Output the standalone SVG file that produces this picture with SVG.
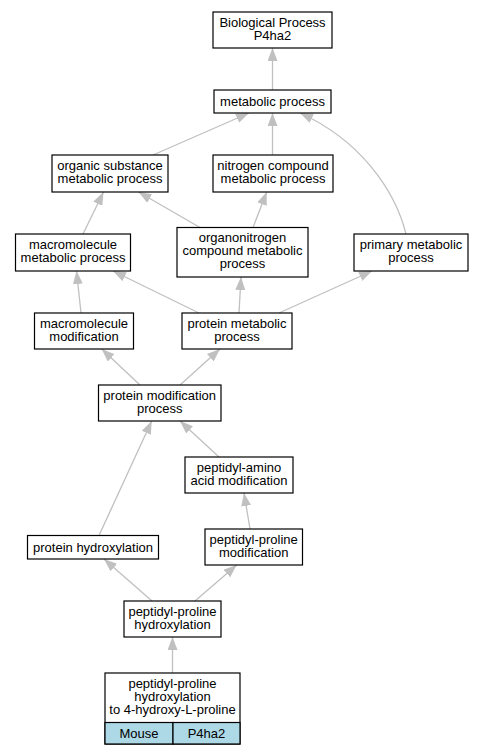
<svg xmlns="http://www.w3.org/2000/svg" width="483" height="755" viewBox="0 0 483 755">
<style>
.n rect{fill:#fff;stroke:#000;stroke-width:1.2}
.n text,.c text{font-family:"Liberation Sans",Arial,sans-serif;font-size:13px;fill:#000;text-anchor:middle}
.e path{fill:none;stroke:#c0c0c0;stroke-width:1.3;marker-end:url(#ah)}
</style>
<defs>
<marker id="ah" viewBox="0 0 13 10" refX="13" refY="5" markerWidth="13" markerHeight="10" markerUnits="userSpaceOnUse" orient="auto">
<path d="M0,0 L13,5 L0,10 z" fill="#c0c0c0"/>
</marker>
</defs>
<rect width="483" height="755" fill="#fff"/>
<g id="edges" class="e">
<path d="M272.5,90 L272.5,48"/>
<path d="M153,155 L249,113"/>
<path d="M272.5,155 L272.5,113"/>
<path d="M406,234 C395,190 360,140 300,113"/>
<path d="M83,234 L103.5,192"/>
<path d="M200,227.5 L138.5,192"/>
<path d="M253,227.5 L266.7,192"/>
<path d="M81,313 L76.5,271"/>
<path d="M199,313 L113,271"/>
<path d="M239,313 L241,277"/>
<path d="M279,313 L372,271"/>
<path d="M140,385 L101.7,349"/>
<path d="M180,385 L220,349"/>
<path d="M99,535.5 L151.7,421"/>
<path d="M219,457 L180,421"/>
<path d="M250,529 L244,493"/>
<path d="M152,601 L104,559"/>
<path d="M195,601 L236.7,565"/>
<path d="M172.5,673 L172.5,637"/>
</g>
<g id="n1" class="n"><rect x="213" y="12" width="119" height="36"/><text x="272.5" y="26.5">Biological Process</text><text x="272.5" y="39.5">P4ha2</text></g>
<g id="n2" class="n"><rect x="214" y="90" width="117" height="23"/><text x="272.5" y="106">metabolic process</text></g>
<g id="n3" class="n"><rect x="52" y="155" width="116" height="37"/><text x="110" y="170">organic substance</text><text x="110" y="183">metabolic process</text></g>
<g id="n4" class="n"><rect x="213" y="155" width="120" height="37"/><text x="273" y="170">nitrogen compound</text><text x="273" y="183">metabolic process</text></g>
<g id="n5" class="n"><rect x="15.5" y="234" width="115" height="37"/><text x="73" y="249">macromolecule</text><text x="73" y="262">metabolic process</text></g>
<g id="n6" class="n"><rect x="177" y="227.5" width="131" height="49.5"/><text x="242.5" y="242">organonitrogen</text><text x="242.5" y="255">compound metabolic</text><text x="242.5" y="268">process</text></g>
<g id="n7" class="n"><rect x="354" y="234" width="114" height="37"/><text x="411" y="249">primary metabolic</text><text x="411" y="262">process</text></g>
<g id="n8" class="n"><rect x="34.5" y="313" width="99" height="36"/><text x="84" y="327.5">macromolecule</text><text x="84" y="340.5">modification</text></g>
<g id="n9" class="n"><rect x="182" y="313" width="110" height="36"/><text x="237" y="327.5">protein metabolic</text><text x="237" y="340.5">process</text></g>
<g id="n10" class="n"><rect x="98.5" y="385" width="122.5" height="36"/><text x="159.7" y="399.5">protein modification</text><text x="159.7" y="412.5">process</text></g>
<g id="n11" class="n"><rect x="185" y="457" width="108" height="36"/><text x="239" y="471.5">peptidyl-amino</text><text x="239" y="484.5">acid modification</text></g>
<g id="n12" class="n"><rect x="27.5" y="535.5" width="131" height="23.5"/><text x="93" y="551.5">protein hydroxylation</text></g>
<g id="n13" class="n"><rect x="205" y="529" width="97.5" height="36"/><text x="253.7" y="543.5">peptidyl-proline</text><text x="253.7" y="556.5">modification</text></g>
<g id="n14" class="n"><rect x="124" y="601" width="97" height="36"/><text x="172.5" y="615.5">peptidyl-proline</text><text x="172.5" y="628.5">hydroxylation</text></g>
<g id="n15" class="n"><rect x="105" y="673" width="135" height="71"/><text x="172.5" y="687.5">peptidyl-proline</text><text x="172.5" y="700.5">hydroxylation</text><text x="172.5" y="713.5">to 4-hydroxy-L-proline</text>
<rect x="105" y="722.5" width="68" height="21.5" style="fill:#add8e6"/><rect x="173" y="722.5" width="67" height="21.5" style="fill:#add8e6"/><text x="139" y="737.5">Mouse</text><text x="206.5" y="737.5">P4ha2</text></g>
</svg>
